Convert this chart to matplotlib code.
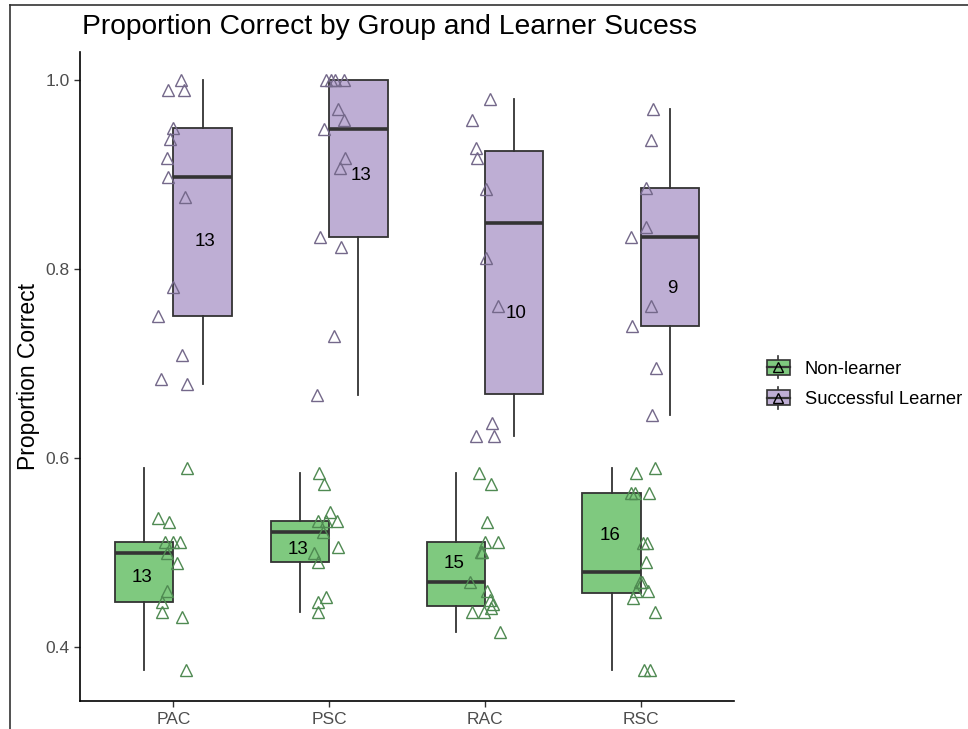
import numpy as np
import matplotlib
matplotlib.use("Agg")
import matplotlib.pyplot as plt
from matplotlib.lines import Line2D
from matplotlib.patches import Rectangle, Patch
from matplotlib.legend_handler import HandlerBase

plt.rcParams['font.family'] = ['Liberation Sans', 'DejaVu Sans']

groups = ['PAC', 'PSC', 'RAC', 'RSC']
learners = ['Non-learner', 'Successful Learner']

# proportion correct per participant, one list per group
non_learner = {
    'PAC': [0.589, 0.537, 0.532, 0.511, 0.511, 0.511, 0.500, 0.489, 0.459,
            0.448, 0.437, 0.432, 0.376],
    'PSC': [0.584, 0.573, 0.543, 0.533, 0.533, 0.533, 0.522, 0.5055, 0.500,
            0.4896, 0.453, 0.448, 0.4373],
    'RAC': [0.584, 0.573, 0.532, 0.511, 0.511, 0.501, 0.501, 0.469, 0.459,
            0.450, 0.446, 0.441, 0.437, 0.437, 0.416],
    'RSC': [0.590, 0.584, 0.563, 0.563, 0.563, 0.510, 0.510, 0.490, 0.469,
            0.469, 0.459, 0.459, 0.452, 0.437, 0.376, 0.376],
}
successful = {
    'PAC': [1.0, 0.99, 0.99, 0.949, 0.938, 0.917, 0.897, 0.876, 0.781,
            0.750, 0.709, 0.684, 0.678],
    'PSC': [1.0, 1.0, 1.0, 1.0, 0.969, 0.958, 0.948, 0.918, 0.907,
            0.834, 0.823, 0.729, 0.667],
    'RAC': [0.980, 0.958, 0.928, 0.917, 0.885, 0.812, 0.761, 0.637, 0.623,
            0.623],
    'RSC': [0.969, 0.9365, 0.886, 0.845, 0.8335, 0.761, 0.740, 0.695, 0.646],
}

# horizontal jitter of each point (same order as the values above)
jitter_non = {
    'PAC': [0.089, -0.098, -0.031, -0.057, -0.005, 0.040, -0.040, 0.021,
            -0.040, -0.074, -0.074, 0.053, 0.080],
    'PSC': [-0.068, -0.035, 0.005, -0.074, -0.018, 0.048, -0.037, 0.053,
            -0.100, -0.072, -0.023, -0.074, -0.072],
    'RAC': [-0.041, 0.041, 0.013, 0.000, 0.086, -0.026, -0.018, -0.096,
            0.013, 0.030, 0.051, 0.041, -0.084, -0.004, 0.096],
    'RSC': [0.088, -0.032, -0.060, -0.039, 0.051, 0.015, 0.037, 0.030,
            -0.006, 0.006, -0.034, 0.047, -0.050, 0.092, 0.021, 0.060],
}
jitter_suc = {
    'PAC': [0.046, -0.033, 0.069, -0.001, -0.025, -0.042, -0.033, 0.072,
            -0.005, -0.100, 0.055, -0.082, 0.085],
    'PSC': [-0.024, 0.010, 0.035, 0.095, 0.053, 0.095, -0.033, 0.104,
            0.069, -0.059, 0.074, 0.031, -0.076],
    'RAC': [0.030, -0.086, -0.060, -0.049, 0.006, 0.006, 0.080, 0.043,
            -0.055, 0.058],
    'RSC': [0.077, 0.066, 0.030, 0.030, -0.066, 0.066, -0.056, 0.096, 0.073],
}

# height of the n labels
label_y_non = [0.4738, 0.5037, 0.4886, 0.5185]
label_y_suc = [0.829, 0.8995, 0.7534, 0.779]

fill_colors = {'Non-learner': '#7FC97F', 'Successful Learner': '#BEAED4'}
point_colors = {'Non-learner': '#4f8a52', 'Successful Learner': '#74688a'}
box_edge = '#333333'

fig = plt.figure(figsize=(9.68, 7.29), dpi=100)
ax = fig.add_axes([80 / 968, 28 / 729, (734.3 - 80) / 968, (701 - 51.7) / 729])

xpos = np.arange(1, len(groups) + 1)
box_w = 0.375
offsets = {'Non-learner': -0.1875, 'Successful Learner': 0.1875}
series = {'Non-learner': non_learner, 'Successful Learner': successful}
jitters = {'Non-learner': jitter_non, 'Successful Learner': jitter_suc}
label_ys = {'Non-learner': label_y_non, 'Successful Learner': label_y_suc}

for lab in learners:
    data = [series[lab][g] for g in groups]
    ax.boxplot(data, positions=xpos + offsets[lab], widths=box_w,
               patch_artist=True, showfliers=False, showcaps=False,
               boxprops=dict(facecolor=fill_colors[lab], edgecolor=box_edge, linewidth=1.3),
               medianprops=dict(color=box_edge, linewidth=2.6, solid_capstyle='butt'),
               whiskerprops=dict(color=box_edge, linewidth=1.3),
               zorder=2)

for lab in learners:
    for i, g in enumerate(groups):
        vals = np.array(series[lab][g])
        xs = xpos[i] + np.array(jitters[lab][g])
        ax.plot(xs, vals, linestyle='none', marker='^', markersize=8.5,
                markerfacecolor='none', markeredgecolor=point_colors[lab],
                markeredgewidth=1.0, zorder=3)
        ax.text(xpos[i] + offsets[lab] * 1.07, label_ys[lab][i], str(len(vals)),
                ha='center', va='center', fontsize=13.5, color='black', zorder=4)

ax.set_xlim(0.4, 4.6)
ax.set_ylim(0.343, 1.030)
ax.set_xticks(xpos)
ax.set_xticklabels(groups)
ax.set_yticks([0.4, 0.6, 0.8, 1.0])
ax.set_yticklabels(['0.4', '0.6', '0.8', '1.0'])
ax.tick_params(axis='both', colors='#333333', labelcolor='#4d4d4d', labelsize=12.5,
               length=4, width=1.0)
ax.tick_params(axis='x', pad=4)
for side in ['top', 'right']:
    ax.spines[side].set_visible(False)
for side in ['left', 'bottom']:
    ax.spines[side].set_color('black')
    ax.spines[side].set_linewidth(1.2)
ax.set_ylabel('Proportion Correct', fontsize=16.5, labelpad=4)

fig.text(82 / 968, 1 - 27 / 729, 'Proportion Correct by Group and Learner Sucess',
         fontsize=20.3, ha='left', va='center')


class BoxKey(HandlerBase):
    def create_artists(self, legend, orig_handle, xdescent, ydescent,
                       width, height, fontsize, trans):
        lab = orig_handle.get_label()
        cx = width / 2 - xdescent
        cy = height / 2 - ydescent
        whisk = Line2D([cx, cx], [cy - height * 0.75, cy + height * 0.75],
                       color=box_edge, lw=1.2, transform=trans)
        rect = Rectangle((-xdescent, cy - height / 2), width, height,
                         facecolor=fill_colors[lab], edgecolor=box_edge,
                         lw=1.2, transform=trans)
        med = Line2D([-xdescent, width - xdescent], [cy, cy], color=box_edge,
                     lw=1.6, transform=trans)
        tri = Line2D([cx], [cy], marker='^', markersize=7.5, markerfacecolor='none',
                     markeredgecolor='black', markeredgewidth=1.0,
                     linestyle='none', transform=trans)
        return [whisk, rect, med, tri]


handles = [Patch(label=lab) for lab in learners]
fig.legend(handles=handles, labels=learners,
           handler_map={Patch: BoxKey()},
           loc='center left', bbox_to_anchor=(750 / 968, 1 - 384 / 729),
           frameon=False, fontsize=13.2, handlelength=1.3, handleheight=0.85,
           handletextpad=0.8, labelspacing=0.68)

# outer frame lines
fig.add_artist(Line2D([10 / 968, 1], [1 - 5 / 729, 1 - 5 / 729],
                      transform=fig.transFigure, color='#333333', lw=1.2))
fig.add_artist(Line2D([10 / 968, 10 / 968], [0, 1 - 5 / 729],
                      transform=fig.transFigure, color='#333333', lw=1.2))

fig.savefig('out.png', dpi=100)
